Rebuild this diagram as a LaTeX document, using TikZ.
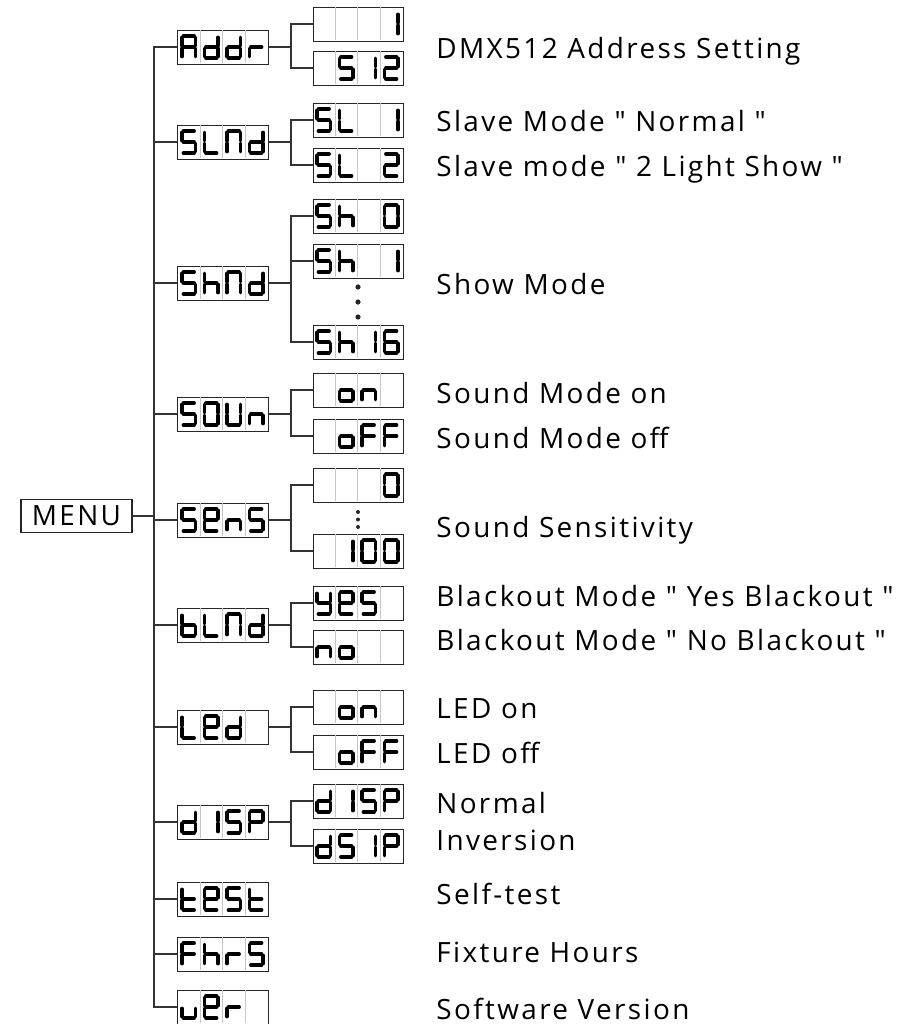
\documentclass[tikz,border=0pt]{standalone}
\usepackage{fontspec}
\newfontfamily\capfont{Open Sans}[LetterSpace=8.5]
\usetikzlibrary{positioning}

\tikzset{
  lcdbox/.style={draw=black!85, line width=0.5bp, minimum width=45bp, minimum height=17bp, inner sep=0pt},
  menubox/.style={draw=black!85, line width=0.6bp, minimum width=55.5bp, minimum height=16.5bp, inner sep=0pt, font=\capfont\fontsize{14}{16}\selectfont},
  cellsep/.style={draw=black!22, line width=0.45bp},
  lcdseg/.style={line width=1.6bp, line cap=round},
  wire/.style={draw=black!80, line width=0.6bp},
  caption/.style={anchor=base west, inner sep=0pt, font=\capfont\fontsize{14}{16}\selectfont},
  dot/.style={fill=black!85, inner sep=0pt, circle},
}

% seven segment parts, cell local (y grows down)
\def\sega{(5.7,6.5) -- (16.8,6.5)}
\def\segb{(18,7.7) -- (18,16.3)}
\def\segc{(18,18.7) -- (18,27.3)}
\def\segd{(5.7,28.5) -- (16.8,28.5)}
\def\sege{(4.5,18.7) -- (4.5,27.3)}
\def\segf{(4.5,7.7) -- (4.5,16.3)}
\def\segg{(5.7,17.5) -- (16.8,17.5)}
\def\segx{}

\newcommand\lcdshow[2]{%
  \begin{scope}[shift={(#1.north west)}]
    \foreach \d in {22.5,45,67.5} \draw[cellsep] (\d,0.6) -- (\d,33.4);
    \foreach \g [count=\i from 0] in {#2} {
      \foreach \s in \g {
        \draw[lcdseg, shift={(22.5*\i,0)}] \csname seg\s\endcsname;
      }
    }
  \end{scope}}

\begin{document}
\begin{tikzpicture}[x=0.5bp,y=-0.5bp]
\useasboundingbox (0,0) rectangle (913,1024);

\coordinate (trunk) at (154,0);
\coordinate (branch) at (291,0);

\node[menubox] (menu) at (76.5,516) {MENU};

% first level
\node[lcdbox] (addr) at (223,47) {};
\node[lcdbox] (slnd) at (223,142) {};
\node[lcdbox] (shnd) at (223,283) {};
\node[lcdbox] (soun) at (223,414) {};
\node[lcdbox] (sens) at (223,520) {};
\node[lcdbox] (blnd) at (223,625) {};
\node[lcdbox] (led) at (223,727) {};
\node[lcdbox] (disp) at (223,822) {};
\node[lcdbox] (test) at (223,899) {};
\node[lcdbox] (fhrs) at (223,954) {};
\node[lcdbox] (ver) at (223,1007) {};

% second level
\node[lcdbox] (addrlo) at (358,24) {};
\node[lcdbox] (addrhi) at (358,68) {};
\node[lcdbox] (slone) at (358,120) {};
\node[lcdbox] (sltwo) at (358,165) {};
\node[lcdbox] (shzero) at (358,216) {};
\node[lcdbox] (shone) at (358,261) {};
\node[lcdbox] (shlast) at (358,342) {};
\node[lcdbox] (sndon) at (358,390) {};
\node[lcdbox] (sndoff) at (358,436) {};
\node[lcdbox] (senslo) at (358,485) {};
\node[lcdbox] (senshi) at (358,551) {};
\node[lcdbox] (blyes) at (358,603) {};
\node[lcdbox] (blno) at (358,647) {};
\node[lcdbox] (ledon) at (358,707) {};
\node[lcdbox] (ledoff) at (358,752) {};
\node[lcdbox] (dispnor) at (358,801) {};
\node[lcdbox] (dispinv) at (358,846) {};

% display contents
\lcdshow{addr}{{a,b,c,e,f,g},{b,c,d,e,g},{b,c,d,e,g},{e,g}}
\lcdshow{slnd}{{a,f,g,c,d},{f,e,d},{a,b,c,e,f},{b,c,d,e,g}}
\lcdshow{shnd}{{a,f,g,c,d},{f,e,g,c},{a,b,c,e,f},{b,c,d,e,g}}
\lcdshow{soun}{{a,f,g,c,d},{a,b,c,d,e,f},{f,e,d,c,b},{e,g,c}}
\lcdshow{sens}{{a,f,g,c,d},{a,b,f,g,e,d},{e,g,c},{a,f,g,c,d}}
\lcdshow{blnd}{{f,e,d,c,g},{f,e,d},{a,b,c,e,f},{b,c,d,e,g}}
\lcdshow{led}{{f,e,d},{a,b,f,g,e,d},{b,c,d,e,g},{x}}
\lcdshow{disp}{{b,c,d,e,g},{b,c},{a,f,g,c,d},{a,b,f,g,e}}
\lcdshow{test}{{f,e,d,g},{a,b,f,g,e,d},{a,f,g,c,d},{f,e,d,g}}
\lcdshow{fhrs}{{a,f,g,e},{f,e,g,c},{e,g},{a,f,g,c,d}}
\lcdshow{ver}{{e,d,c},{a,b,f,g,e,d},{e,g},{x}}

\lcdshow{addrlo}{{x},{x},{x},{b,c}}
\lcdshow{addrhi}{{x},{a,f,g,c,d},{b,c},{a,b,g,e,d}}
\lcdshow{slone}{{a,f,g,c,d},{f,e,d},{x},{b,c}}
\lcdshow{sltwo}{{a,f,g,c,d},{f,e,d},{x},{a,b,g,e,d}}
\lcdshow{shzero}{{a,f,g,c,d},{f,e,g,c},{x},{a,b,c,d,e,f}}
\lcdshow{shone}{{a,f,g,c,d},{f,e,g,c},{x},{b,c}}
\lcdshow{shlast}{{a,f,g,c,d},{f,e,g,c},{b,c},{a,f,g,e,d,c}}
\lcdshow{sndon}{{x},{g,c,d,e},{e,g,c},{x}}
\lcdshow{sndoff}{{x},{g,c,d,e},{a,f,g,e},{a,f,g,e}}
\lcdshow{senslo}{{x},{x},{x},{a,b,c,d,e,f}}
\lcdshow{senshi}{{x},{b,c},{a,b,c,d,e,f},{a,b,c,d,e,f}}
\lcdshow{blyes}{{f,b,g,c,d},{a,b,f,g,e,d},{a,f,g,c,d},{x}}
\lcdshow{blno}{{e,g,c},{g,c,d,e},{x},{x}}
\lcdshow{ledon}{{x},{g,c,d,e},{e,g,c},{x}}
\lcdshow{ledoff}{{x},{g,c,d,e},{a,f,g,e},{a,f,g,e}}
\lcdshow{dispnor}{{b,c,d,e,g},{b,c},{a,f,g,c,d},{a,b,f,g,e}}
\lcdshow{dispinv}{{b,c,d,e,g},{a,f,g,c,d},{b,c},{a,b,f,g,e}}

% ellipsis marks
\node[dot, minimum size=2.6bp] (shdota) at (358,287) {};
\node[dot, minimum size=2.6bp] (shdotb) at (358,302) {};
\node[dot, minimum size=2.6bp] (shdotc) at (358,317) {};
\node[dot, minimum size=2bp] (sensdota) at (358,512) {};
\node[dot, minimum size=2bp] (sensdotb) at (358,519.5) {};
\node[dot, minimum size=2bp] (sensdotc) at (358,527) {};

% trunk
\draw[wire] (menu.east) -- (menu.east -| trunk);
\draw[wire] (addr.west) -- (addr.west -| trunk) -- (ver.west -| trunk) -- (ver.west);
\draw[wire] (slnd.west) -- (slnd.west -| trunk);
\draw[wire] (shnd.west) -- (shnd.west -| trunk);
\draw[wire] (soun.west) -- (soun.west -| trunk);
\draw[wire] (sens.west) -- (sens.west -| trunk);
\draw[wire] (blnd.west) -- (blnd.west -| trunk);
\draw[wire] (led.west) -- (led.west -| trunk);
\draw[wire] (disp.west) -- (disp.west -| trunk);
\draw[wire] (test.west) -- (test.west -| trunk);
\draw[wire] (fhrs.west) -- (fhrs.west -| trunk);

% branches
\draw[wire] (addr.east) -- (addr.east -| branch);
\draw[wire] (addrlo.west) -- (addrlo.west -| branch) -- (addrhi.west -| branch) -- (addrhi.west);
\draw[wire] (slnd.east) -- (slnd.east -| branch);
\draw[wire] (slone.west) -- (slone.west -| branch) -- (sltwo.west -| branch) -- (sltwo.west);
\draw[wire] (shnd.east) -- (shnd.east -| branch);
\draw[wire] (shzero.west) -- (shzero.west -| branch) -- (shlast.west -| branch) -- (shlast.west);
\draw[wire] (shone.west) -- (shone.west -| branch);
\draw[wire] (soun.east) -- (soun.east -| branch);
\draw[wire] (sndon.west) -- (sndon.west -| branch) -- (sndoff.west -| branch) -- (sndoff.west);
\draw[wire] (sens.east) -- (sens.east -| branch);
\draw[wire] (senslo.west) -- (senslo.west -| branch) -- (senshi.west -| branch) -- (senshi.west);
\draw[wire] (blnd.east) -- (blnd.east -| branch);
\draw[wire] (blyes.west) -- (blyes.west -| branch) -- (blno.west -| branch) -- (blno.west);
\draw[wire] (led.east) -- (led.east -| branch);
\draw[wire] (ledon.west) -- (ledon.west -| branch) -- (ledoff.west -| branch) -- (ledoff.west);
\draw[wire] (disp.east) -- (disp.east -| branch);
\draw[wire] (dispnor.west) -- (dispnor.west -| branch) -- (dispinv.west -| branch) -- (dispinv.west);

% captions
\node[caption] (capaddr) at (436,58) {DMX512 Address Setting};
\node[caption] (capslone) at (436,131) {Slave Mode " Normal "};
\node[caption] (capsltwo) at (436,176) {Slave mode " 2 Light Show "};
\node[caption] (capshow) at (436,294) {Show Mode};
\node[caption] (capsndon) at (436,403) {Sound Mode on};
\node[caption] (capsndoff) at (436,448) {Sound Mode off};
\node[caption] (capsens) at (436,537) {Sound Sensitivity};
\node[caption] (capblyes) at (436,606) {Blackout Mode " Yes Blackout "};
\node[caption] (capblno) at (436,650) {Blackout Mode " No Blackout "};
\node[caption] (capledon) at (436,718) {LED on};
\node[caption] (capledoff) at (436,763) {LED off};
\node[caption] (capnor) at (436,813) {Normal};
\node[caption] (capinv) at (436,850) {Inversion};
\node[caption] (captest) at (436,904) {Self-test};
\node[caption] (capfhrs) at (436,962) {Fixture Hours};
\node[caption] (capver) at (436,1019) {Software Version};
\end{tikzpicture}
\end{document}
